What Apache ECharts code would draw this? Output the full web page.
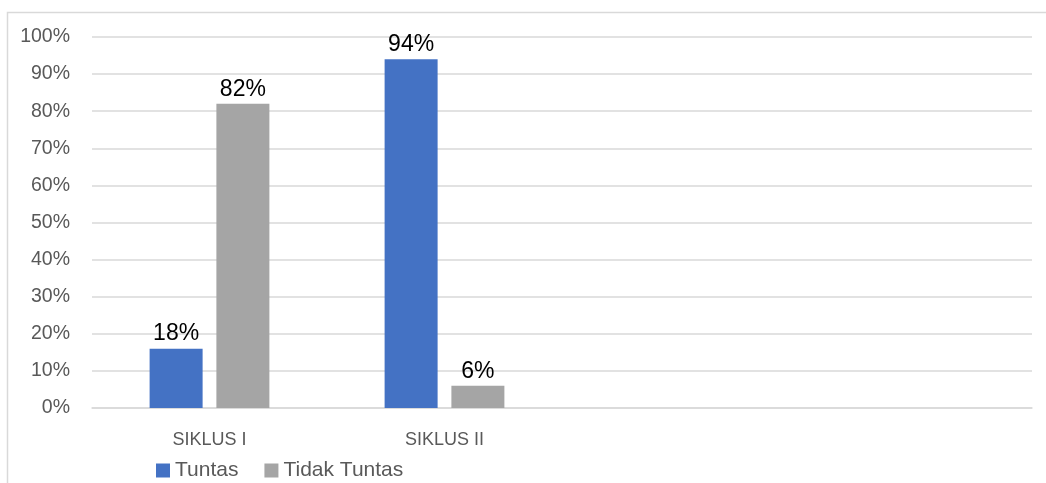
<!DOCTYPE html>
<html>
<head>
<meta charset="utf-8">
<script src="https://cdn.jsdelivr.net/npm/echarts@6/dist/echarts.min.js"></script>
<style>html,body{margin:0;padding:0;background:#fff}#c{width:1046px;height:483px}</style>
</head>
<body>
<div id="c"></div>
<script>
var categories = ['SIKLUS I', 'SIKLUS II', '', ''];
var seriesNames = ['Tuntas', 'Tidak Tuntas'];
var tuntas = [16, 94, null, null];
var tidakTuntas = [82, 6, null, null];
var tuntasLabels = ['18%', '94%', '', ''];
var tidakTuntasLabels = ['82%', '6%', '', ''];
var yTicks = [0, 10, 20, 30, 40, 50, 60, 70, 80, 90, 100];

var chart = echarts.init(document.getElementById('c'));
var font = 'Liberation Sans, Arial, sans-serif';
function mkLabel(arr) {
  return {
    show: true, position: 'top', distance: 3, color: '#000', fontSize: 23, fontFamily: font,
    formatter: function (p) { return arr[p.dataIndex]; }
  };
}
chart.setOption({
  animation: false,
  graphic: [{
    type: 'rect', shape: { x: 7.5, y: 12.5, width: 1100, height: 600 },
    style: { fill: 'none', stroke: '#d9d9d9', lineWidth: 1.5 }, silent: true
  }],
  grid: { left: 92, right: 14, top: 37, bottom: 75, containLabel: false },
  legend: {
    data: seriesNames, left: 156, top: 460, padding: 0, itemWidth: 14, itemHeight: 14, itemGap: 26,
    icon: 'rect', textStyle: { color: '#595959', fontSize: 21, fontFamily: font }
  },
  xAxis: {
    type: 'category', data: categories,
    axisLine: { show: true, lineStyle: { color: '#d9d9d9', width: 1.5 } },
    axisTick: { show: false },
    axisLabel: { color: '#595959', fontSize: 18, fontFamily: font, margin: 23 }
  },
  yAxis: {
    type: 'value', min: yTicks[0], max: yTicks[yTicks.length - 1], interval: 10,
    axisLine: { show: false }, axisTick: { show: false },
    splitLine: { lineStyle: { color: '#d9d9d9', width: 1.5 } },
    axisLabel: { color: '#595959', fontSize: 19.5, fontFamily: font, margin: 22, formatter: '{value}%' }
  },
  series: [
    { name: seriesNames[0], type: 'bar', data: tuntas, barWidth: 53, barGap: '26%',
      itemStyle: { color: '#4472C4' }, label: mkLabel(tuntasLabels) },
    { name: seriesNames[1], type: 'bar', data: tidakTuntas, barWidth: 53,
      itemStyle: { color: '#A5A5A5' }, label: mkLabel(tidakTuntasLabels) }
  ]
});
</script>
</body>
</html>
